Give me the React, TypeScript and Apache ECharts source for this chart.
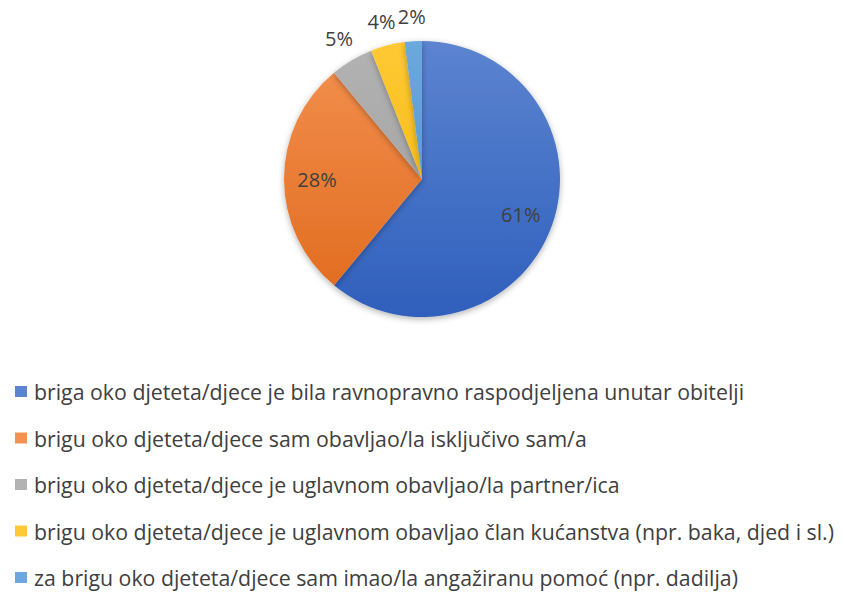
import React, { useEffect, useRef } from "react";
import * as echarts from "echarts";

const categories = [
  "briga oko djeteta/djece je bila ravnopravno raspodjeljena unutar obitelji",
  "brigu oko djeteta/djece sam obavljao/la isključivo sam/a",
  "brigu oko djeteta/djece je uglavnom obavljao/la partner/ica",
  "brigu oko djeteta/djece je uglavnom obavljao član kućanstva (npr. baka, djed i sl.)",
  "za brigu oko djeteta/djece sam imao/la angažiranu pomoć (npr. dadilja)",
];
const values = [61, 28, 5, 4, 2];
const baseColors = ["#4472C4", "#ED7D31", "#A5A5A5", "#FFC000", "#5B9BD5"];
const topColors = ["#5C84D0", "#F39150", "#B3B3B3", "#FFC935", "#6CA8DD"];
const bottomColors = ["#2F5FBC", "#E0691C", "#9A9A9A", "#F0B400", "#4A8ECF"];

const CX = 422;
const CY = 179;
const R = 138;

export default function App() {
  const ref = useRef<HTMLDivElement>(null);
  useEffect(() => {
    if (!ref.current) return;
    const chart = echarts.init(ref.current, undefined, { renderer: "svg" });
    const grad = (i: number) =>
      new echarts.graphic.LinearGradient(
        0,
        CY - R,
        0,
        CY + R,
        [
          { offset: 0, color: topColors[i] },
          { offset: 1, color: bottomColors[i] },
        ],
        true
      );
    const labelStyle = {
      color: "#404040",
      fontSize: 20,
      fontFamily: "Open Sans",
      formatter: "{c}%",
    };
    chart.setOption({
      animation: false,
      legend: {
        orient: "vertical",
        left: 15,
        top: 381,
        height: 300,
        padding: 0,
        icon: "rect",
        itemWidth: 12,
        itemHeight: 11,
        itemGap: 25.5,
        selectedMode: false,
        data: categories,
        textStyle: {
          color: "#404040",
          fontSize: 21.3,
          lineHeight: 20,
          fontFamily: "Open Sans",
          padding: [0, 0, 0, 2],
        },
      },
      series: [
        {
          type: "pie",
          center: [CX, CY],
          radius: [0, R],
          startAngle: 90,
          clockwise: true,
          silent: true,
          label: { show: false },
          labelLine: { show: false },
          itemStyle: {
            borderWidth: 0,
            shadowBlur: 6,
            shadowOffsetY: 2,
            shadowColor: "rgba(0,0,0,0.3)",
          },
          data: categories.map((name, i) => ({
            name,
            value: values[i],
            itemStyle: { color: grad(i) },
          })),
          color: baseColors,
        },
        {
          type: "pie",
          center: [CX, CY],
          radius: [0, 204],
          startAngle: 90,
          silent: true,
          legendHoverLink: false,
          labelLine: { show: false },
          itemStyle: { color: "rgba(0,0,0,0)" },
          data: categories.map((name, i) => ({
            name: name + " ",
            value: values[i],
            label: { show: i < 2, position: "inside", ...labelStyle },
          })),
        },
        {
          type: "pie",
          center: [CX, CY],
          radius: [136, 184],
          startAngle: 90,
          silent: true,
          legendHoverLink: false,
          labelLine: { show: false },
          itemStyle: { color: "rgba(0,0,0,0)" },
          data: categories.map((name, i) => ({
            name: name + "  ",
            value: values[i],
            label: { show: i >= 2, position: "inside", ...labelStyle },
          })),
        },
      ],
      color: baseColors,
    });
    return () => chart.dispose();
  }, []);
  return (
    <div
      ref={ref}
      style={{ position: "fixed", left: 0, top: 0, width: 843, height: 592, background: "#fff" }}
    />
  );
}
